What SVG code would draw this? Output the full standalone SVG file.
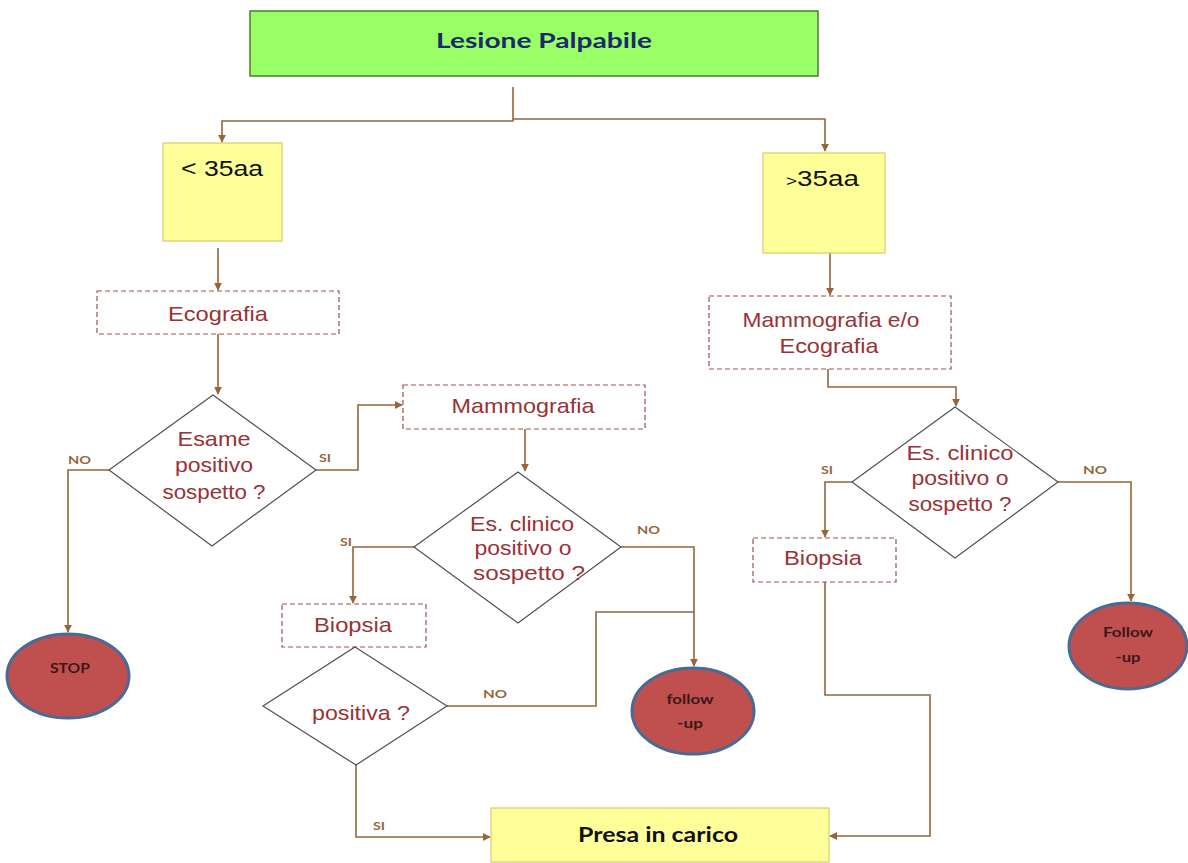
<svg xmlns="http://www.w3.org/2000/svg" width="1188" height="863" viewBox="0 0 1188 863">
  <style>
    .conn { fill: none; stroke: #94663A; stroke-width: 1.6; }
    .proc { fill: #FFFFFF; stroke: #A0504E; stroke-width: 1.2; stroke-dasharray: 5 3; }
    .dec { fill: #FFFFFF; stroke: #505050; stroke-width: 1.2; }
    .age { fill: #FFFF99; stroke: #D8CC66; stroke-width: 1.2; }
    .term { fill: #C0504D; stroke: #4A6A96; stroke-width: 3; }
    .t { font-family: "Liberation Sans", Arial, sans-serif; font-size: 21px; fill: #9A3236; text-anchor: middle; }
    .lbl { font-family: Lato, "Open Sans", sans-serif; font-weight: bold; font-size: 12px; fill: #94663A; }
    .tt { font-family: Lato, "Open Sans", sans-serif; font-weight: bold; font-size: 14px; fill: #3A1818; text-anchor: middle; }
  </style>
  <defs>
    <marker id="arr" viewBox="0 0 10 10" refX="9" refY="5" markerWidth="8" markerHeight="8" markerUnits="userSpaceOnUse" orient="auto">
      <path d="M0,0 L10,5 L0,10 z" fill="#94663A"/>
    </marker>
  </defs>

  <rect width="1188" height="863" fill="#FFFFFF"/>

  <!-- connectors -->
  <g id="connectors">
    <path class="conn" d="M513,87 V121 H222 V142" marker-end="url(#arr)"/>
    <path class="conn" d="M513,119 H825 V151" marker-end="url(#arr)"/>
    <path class="conn" d="M218,248 V290" marker-end="url(#arr)"/>
    <path class="conn" d="M218,334 V394" marker-end="url(#arr)"/>
    <path class="conn" d="M109,470 H68 V632" marker-end="url(#arr)"/>
    <path class="conn" d="M316,470 H358 V405 H402" marker-end="url(#arr)"/>
    <path class="conn" d="M525,429 V471" marker-end="url(#arr)"/>
    <path class="conn" d="M414,547 H353 V603" marker-end="url(#arr)"/>
    <path class="conn" d="M621,547 H694 V666" marker-end="url(#arr)"/>
    <path class="conn" d="M447,706 H596 V612 H694"/>
    <path class="conn" d="M356,765 V837 H490" marker-end="url(#arr)"/>
    <path class="conn" d="M830,253 V295" marker-end="url(#arr)"/>
    <path class="conn" d="M828,369 V387 H956 V406" marker-end="url(#arr)"/>
    <path class="conn" d="M852,482 H825 V537" marker-end="url(#arr)"/>
    <path class="conn" d="M1058,482 H1131 V601" marker-end="url(#arr)"/>
    <path class="conn" d="M825,582 V695 H930 V836 H830" marker-end="url(#arr)"/>
  </g>

  <!-- branch labels -->
  <g id="labels">
    <text class="lbl" x="68" y="464" textLength="23" lengthAdjust="spacingAndGlyphs">NO</text>
    <text class="lbl" x="319" y="462" textLength="12" lengthAdjust="spacingAndGlyphs">SI</text>
    <text class="lbl" x="637" y="534" textLength="23" lengthAdjust="spacingAndGlyphs">NO</text>
    <text class="lbl" x="340" y="546" textLength="12" lengthAdjust="spacingAndGlyphs">SI</text>
    <text class="lbl" x="483" y="698" textLength="24" lengthAdjust="spacingAndGlyphs">NO</text>
    <text class="lbl" x="373" y="830" textLength="12" lengthAdjust="spacingAndGlyphs">SI</text>
    <text class="lbl" x="821" y="474" textLength="12" lengthAdjust="spacingAndGlyphs">SI</text>
    <text class="lbl" x="1083" y="474" textLength="24" lengthAdjust="spacingAndGlyphs">NO</text>
  </g>

  <g id="start">
    <rect x="250" y="11" width="568" height="65" fill="#99FF66" stroke="#4E7A2E" stroke-width="1.5"/>
    <text x="544" y="48" font-family="Lato, 'Open Sans', sans-serif" font-weight="bold" font-size="21" fill="#1B2A6B" text-anchor="middle" textLength="216" lengthAdjust="spacingAndGlyphs">Lesione Palpabile</text>
  </g>

  <g id="under35">
    <rect class="age" x="163" y="143" width="119" height="98"/>
    <text x="181" y="176" font-family="'Liberation Sans', Arial, sans-serif" font-size="22" fill="#111" textLength="82" lengthAdjust="spacingAndGlyphs">&lt; 35aa</text>
  </g>

  <g id="over35">
    <rect class="age" x="763" y="153" width="122" height="100"/>
    <text x="786" y="186" font-family="'Liberation Sans', Arial, sans-serif" font-size="22" fill="#111" textLength="73" lengthAdjust="spacingAndGlyphs"><tspan font-size="15">&gt;</tspan>35aa</text>
  </g>

  <g id="ecografia">
    <rect class="proc" x="97" y="291" width="242" height="43"/>
    <text class="t" x="218" y="321" textLength="100" lengthAdjust="spacingAndGlyphs">Ecografia</text>
  </g>

  <g id="esame-positivo">
    <polygon class="dec" points="213,395 316,470 212,546 109,470"/>
    <text class="t" x="214" y="446" textLength="73" lengthAdjust="spacingAndGlyphs">Esame</text>
    <text class="t" x="214" y="472" textLength="78" lengthAdjust="spacingAndGlyphs">positivo</text>
    <text class="t" x="214" y="499" textLength="103" lengthAdjust="spacingAndGlyphs">sospetto ?</text>
  </g>

  <g id="stop">
    <ellipse class="term" cx="68" cy="676" rx="61" ry="42"/>
    <text class="tt" x="70" y="673" font-size="15" textLength="40" lengthAdjust="spacingAndGlyphs">STOP</text>
  </g>

  <g id="mammografia">
    <rect class="proc" x="403" y="385" width="242" height="44"/>
    <text class="t" x="523" y="413" textLength="143" lengthAdjust="spacingAndGlyphs">Mammografia</text>
  </g>

  <g id="clinico-left">
    <polygon class="dec" points="518,472 621,547 518,623 414,547"/>
    <text class="t" x="522" y="531" textLength="104" lengthAdjust="spacingAndGlyphs">Es. clinico</text>
    <text class="t" x="523" y="555" textLength="97" lengthAdjust="spacingAndGlyphs">positivo o</text>
    <text class="t" x="529" y="580" textLength="112" lengthAdjust="spacingAndGlyphs">sospetto ?</text>
  </g>

  <g id="biopsia-left">
    <rect class="proc" x="282" y="604" width="144" height="43"/>
    <text class="t" x="353" y="632" textLength="78" lengthAdjust="spacingAndGlyphs">Biopsia</text>
  </g>

  <g id="positiva">
    <polygon class="dec" points="355,647 447,706 356,765 263,706"/>
    <text class="t" x="361" y="720" textLength="98" lengthAdjust="spacingAndGlyphs">positiva ?</text>
  </g>

  <g id="followup-left">
    <ellipse class="term" cx="693" cy="711" rx="61" ry="43"/>
    <text class="tt" x="690" y="704" textLength="47" lengthAdjust="spacingAndGlyphs">follow</text>
    <text class="tt" x="690" y="728" textLength="26" lengthAdjust="spacingAndGlyphs">-up</text>
  </g>

  <g id="presa">
    <rect x="491" y="808" width="338" height="54" fill="#FFFF99" stroke="#D8CC66" stroke-width="1.2"/>
    <text x="658" y="842" font-family="Lato, 'Open Sans', sans-serif" font-weight="bold" font-size="21" fill="#111" text-anchor="middle" textLength="160" lengthAdjust="spacingAndGlyphs">Presa in carico</text>
  </g>

  <g id="mammo-eco">
    <rect class="proc" x="709" y="296" width="242" height="73"/>
    <text class="t" x="831" y="327" textLength="177" lengthAdjust="spacingAndGlyphs">Mammografia e/o</text>
    <text class="t" x="829" y="353" textLength="99" lengthAdjust="spacingAndGlyphs">Ecografia</text>
  </g>

  <g id="clinico-right">
    <polygon class="dec" points="955,407 1058,482 955,558 852,482"/>
    <text class="t" x="960" y="460" textLength="107" lengthAdjust="spacingAndGlyphs">Es. clinico</text>
    <text class="t" x="960" y="485" textLength="97" lengthAdjust="spacingAndGlyphs">positivo o</text>
    <text class="t" x="960" y="511" textLength="103" lengthAdjust="spacingAndGlyphs">sospetto ?</text>
  </g>

  <g id="biopsia-right">
    <rect class="proc" x="753" y="538" width="143" height="44"/>
    <text class="t" x="823" y="565" textLength="78" lengthAdjust="spacingAndGlyphs">Biopsia</text>
  </g>

  <g id="followup-right">
    <ellipse class="term" cx="1128" cy="646" rx="59" ry="43"/>
    <text class="tt" x="1128" y="637" textLength="50" lengthAdjust="spacingAndGlyphs">Follow</text>
    <text class="tt" x="1128" y="662" textLength="25" lengthAdjust="spacingAndGlyphs">-up</text>
  </g>
</svg>
